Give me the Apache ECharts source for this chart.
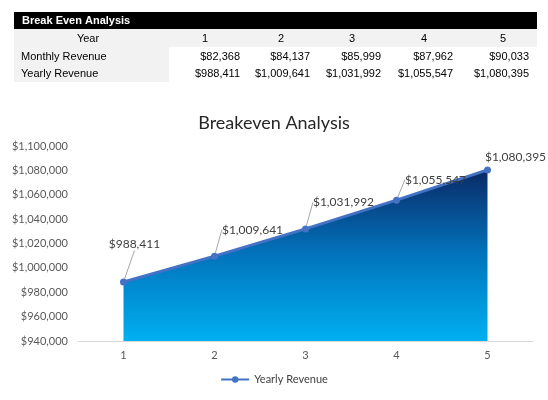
<!DOCTYPE html>
<html>
<head>
<meta charset="utf-8">
<script src="https://cdn.jsdelivr.net/npm/echarts@6/dist/echarts.min.js"></script>
<style>
  html, body { margin: 0; padding: 0; background: #fff; }
  #chart { width: 548px; height: 400px; }
</style>
</head>
<body>
<div id="chart"></div>
<script>
var chart = echarts.init(document.getElementById('chart'));

// table + chart data
var years = ['1', '2', '3', '4', '5'];
var monthlyRevenue = [82368, 84137, 85999, 87962, 90033];
var yearlyRevenue = [988411, 1009641, 1031992, 1055547, 1080395];

// where each data label sits, relative to its default 'top' spot
var labelShift = [[11, -23], [38, -12], [38, -12], [39, -6], [28, 2]];

function money(v) {
  return '$' + v.toLocaleString('en-US');
}

// table drawn with graphic elements
var tblFont = '11px "Liberation Sans", Arial, sans-serif';
var yearX = [205, 281, 352, 424, 503];
var valRight = [240, 310, 381, 453, 529];
var rowY = { head: 21, year: 39, month: 57, yearly: 74 };

var graphics = [
  { type: 'rect', shape: { x: 14, y: 12, width: 523, height: 17 }, style: { fill: '#000' } },
  { type: 'rect', shape: { x: 14, y: 29, width: 523, height: 18 }, style: { fill: '#f2f2f2' } },
  { type: 'rect', shape: { x: 14, y: 47, width: 155, height: 35 }, style: { fill: '#f2f2f2' } },
  { type: 'text', x: 22, y: rowY.head, style: { text: 'Break Even Analysis', font: 'bold ' + tblFont, fill: '#fff', verticalAlign: 'middle' } },
  { type: 'text', x: 88, y: rowY.year, style: { text: 'Year', font: tblFont, fill: '#000', align: 'center', verticalAlign: 'middle' } },
  { type: 'text', x: 21, y: rowY.month, style: { text: 'Monthly Revenue', font: tblFont, fill: '#000', verticalAlign: 'middle' } },
  { type: 'text', x: 21, y: rowY.yearly, style: { text: 'Yearly Revenue', font: tblFont, fill: '#000', verticalAlign: 'middle' } }
];
for (var i = 0; i < years.length; i++) {
  graphics.push({ type: 'text', x: yearX[i], y: rowY.year,
    style: { text: years[i], font: tblFont, fill: '#000', align: 'center', verticalAlign: 'middle' } });
  graphics.push({ type: 'text', x: valRight[i], y: rowY.month,
    style: { text: money(monthlyRevenue[i]), font: tblFont, fill: '#000', align: 'right', verticalAlign: 'middle' } });
  graphics.push({ type: 'text', x: valRight[i], y: rowY.yearly,
    style: { text: money(yearlyRevenue[i]), font: tblFont, fill: '#000', align: 'right', verticalAlign: 'middle' } });
}

var seriesData = yearlyRevenue.map(function (v, i) {
  var d = { value: v };
  if (i === yearlyRevenue.length - 1) d.labelLine = { show: false };
  return d;
});

var chartFont = 'Lato, "Open Sans", sans-serif';

var option = {
  animation: false,
  textStyle: { fontFamily: chartFont },
  title: {
    text: 'Breakeven Analysis',
    left: 'center',
    top: 109,
    textStyle: { fontSize: 18, fontWeight: 'normal', color: '#262626', fontFamily: chartFont }
  },
  legend: {
    bottom: 10,
    left: 'center',
    itemWidth: 28,
    itemHeight: 8,
    itemGap: 4,
    textStyle: { fontSize: 11, color: '#404040', fontFamily: chartFont },
    data: ['Yearly Revenue']
  },
  grid: { left: 78, right: 15, top: 146, bottom: 59 },
  xAxis: {
    type: 'category',
    data: years,
    boundaryGap: true,
    axisLine: { lineStyle: { color: '#d9d9d9' } },
    axisTick: { show: false },
    axisLabel: { color: '#595959', fontSize: 11, margin: 9 }
  },
  yAxis: {
    type: 'value',
    min: 940000,
    max: 1100000,
    interval: 20000,
    axisLine: { show: false },
    axisTick: { show: false },
    splitLine: { show: false },
    axisLabel: {
      color: '#595959',
      fontSize: 11,
      margin: 10,
      formatter: function (v) { return money(v); }
    }
  },
  series: [
    {
      name: 'Yearly Revenue',
      type: 'line',
      data: seriesData,
      symbol: 'circle',
      symbolSize: 7,
      lineStyle: { color: '#4472c4', width: 3 },
      itemStyle: { color: '#4472c4' },
      areaStyle: {
        opacity: 1,
        color: {
          type: 'linear', x: 0, y: 0, x2: 0, y2: 1,
          colorStops: [
            { offset: 0, color: '#0a2a66' },
            { offset: 0.5, color: '#0274bd' },
            { offset: 1, color: '#00b0f0' }
          ]
        }
      },
      label: {
        show: true,
        position: 'top',
        color: '#404040',
        fontSize: 12,
        fontFamily: chartFont,
        formatter: function (p) { return money(p.value); }
      },
      labelLine: { show: true, lineStyle: { color: '#a6a6a6', width: 1 } },
      labelLayout: function (p) {
        return { dx: labelShift[p.dataIndex][0], dy: labelShift[p.dataIndex][1] };
      }
    }
  ],
  graphic: graphics
};

chart.setOption(option);
</script>
</body>
</html>
